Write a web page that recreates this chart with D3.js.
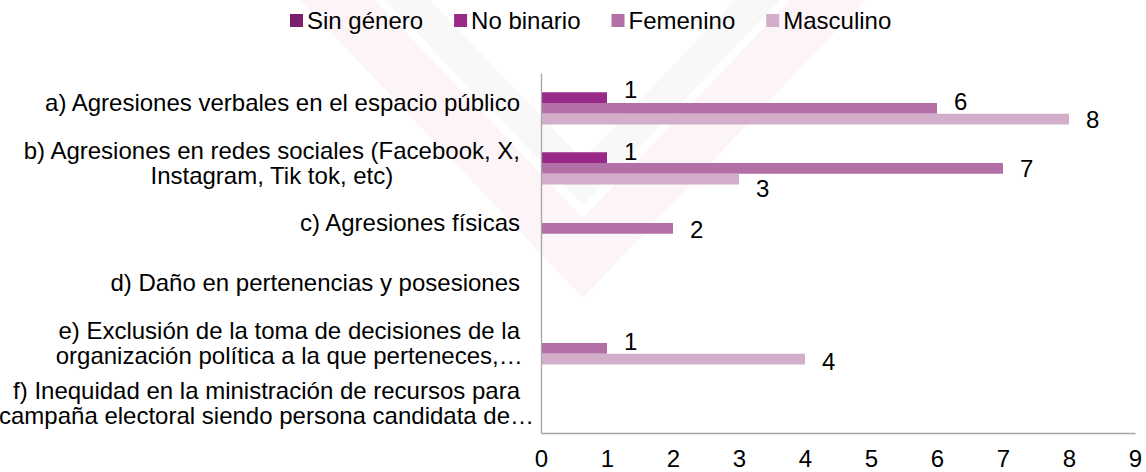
<!DOCTYPE html>
<html>
<head>
<meta charset="utf-8">
<script src="https://cdn.jsdelivr.net/npm/d3@7"></script>
<style>
  body { margin: 0; background: #fff; }
  text { font-family: "Liberation Sans", Arial, sans-serif; fill: #000; }
</style>
</head>
<body>
<script>
// datos
var categorias = [
  ["a) Agresiones verbales en el espacio público"],
  ["b) Agresiones en redes sociales (Facebook, X,", "Instagram, Tik tok, etc)"],
  ["c) Agresiones físicas"],
  ["d) Daño en pertenencias y posesiones"],
  ["e) Exclusión de la toma de decisiones de la", "organización política a la que perteneces,…"],
  ["f) Inequidad en la ministración de recursos para", "campaña electoral siendo persona candidata de…"]
];
var series = ["Sin género", "No binario", "Femenino", "Masculino"];
var sinGenero = [0, 0, 0, 0, 0, 0];
var noBinario = [1, 1, 0, 0, 0, 0];
var femenino = [6, 7, 2, 0, 1, 0];
var masculino = [8, 3, 0, 0, 4, 0];
var ticks = [0, 1, 2, 3, 4, 5, 6, 7, 8, 9];

var valores = [sinGenero, noBinario, femenino, masculino];
var cores = ["#7b1f6f", "#992a89", "#b370a6", "#d2aeca"];
// desplazamiento vertical de las etiquetas (como las coloca Excel)
var ajusteEtiqueta = [
  [0, 0, 0, 0, 0, 0],
  [-8, -6, 0, 0, 0, 0],
  [-7, 0, 1, 0, -6.5, 0],
  [0, 9.5, 0, 0, 2, 0]
];

var svg = d3.select("body").append("svg").attr("width", 1146).attr("height", 472);

// marca de agua tenue
var agua = svg.append("g");
agua.append("path")
  .attr("d", "M300,0 L583,298 L865,0 L790,0 L583,218 L375,0 Z")
  .style("fill", "#fcf4f7");
agua.append("path")
  .attr("d", "M385,0 L583,205 L780,0 L735,0 L583,160 L430,0 Z")
  .style("fill", "#f9f8f9");

var x = d3.scaleLinear().domain([0, 9]).range([541, 1135]);
var y = d3.scaleBand().domain(d3.range(categorias.length)).range([73, 433])
  .paddingInner(0.283).paddingOuter(0.1415);
var y1 = d3.scaleBand().domain(d3.range(series.length)).range([0, y.bandwidth()]);

// barras
var grupos = svg.append("g").selectAll("g").data(valores).enter().append("g")
  .style("fill", function (d, i) { return cores[i]; });

grupos.each(function (serie, s) {
  d3.select(this).selectAll("rect").data(serie).enter().append("rect")
    .attr("x", x(0))
    .attr("y", function (d, i) { return y(i) + y1(s); })
    .attr("width", function (d) { return x(d) - x(0); })
    .attr("height", y1.bandwidth());
});

// etiquetas de datos (solo valores > 0)
grupos.each(function (serie, s) {
  var puntos = serie.map(function (v, i) { return { v: v, i: i }; })
    .filter(function (d) { return d.v > 0; });
  d3.select(this).selectAll("text").data(puntos).enter().append("text")
    .attr("x", function (d) { return x(d.v) + 17; })
    .attr("y", function (d) { return y(d.i) + y1(s) + y1.bandwidth() / 2 + ajusteEtiqueta[s][d.i]; })
    .attr("dy", "0.35em")
    .style("font-size", "24px")
    .style("fill", "#000")
    .text(function (d) { return d.v; });
});

// eje x
var ejeX = svg.append("g").attr("transform", "translate(0,433)")
  .call(d3.axisBottom(x).tickValues(ticks).tickSize(0).tickPadding(17).tickFormat(d3.format("d")));
ejeX.select(".domain").attr("stroke", "#a6a6a6").attr("stroke-width", 1.3);
ejeX.selectAll("text").style("font-size", "24px").style("font-family", "'Liberation Sans', Arial, sans-serif");

// eje y
var ejeY = svg.append("g").attr("transform", "translate(541,0)")
  .call(d3.axisLeft(y).tickSize(0).tickFormat(""));
ejeY.select(".domain").attr("stroke", "#a6a6a6").attr("stroke-width", 1.3);

// etiquetas de categorias
var etiquetas = svg.append("g").selectAll("g").data(categorias).enter().append("g");
etiquetas.each(function (lineas, i) {
  var g = d3.select(this);
  var cy = y(i) + y.bandwidth() / 2;
  var alto = 25;
  var t = g.selectAll("text").data(lineas).enter().append("text")
    .style("font-size", "24px")
    .attr("dy", "0.35em")
    .attr("y", function (d, j) { return cy + (j - (lineas.length - 1) / 2) * alto; })
    .text(function (d) { return d; });
  var w1 = t.node().getComputedTextLength();
  var centro = 520 - w1 / 2;
  t.attr("text-anchor", "middle").attr("x", centro);
});

// leyenda
var leyenda = svg.append("g");
var lx = 290;
series.forEach(function (nome, i) {
  leyenda.append("rect").attr("x", lx).attr("y", 14).attr("width", 13).attr("height", 13)
    .style("fill", cores[i]);
  var t = leyenda.append("text").attr("x", lx + 17).attr("y", 21).attr("dy", "0.35em")
    .style("font-size", "24px").text(nome);
  lx += 17 + t.node().getComputedTextLength() + 31;
});
</script>
</body>
</html>
